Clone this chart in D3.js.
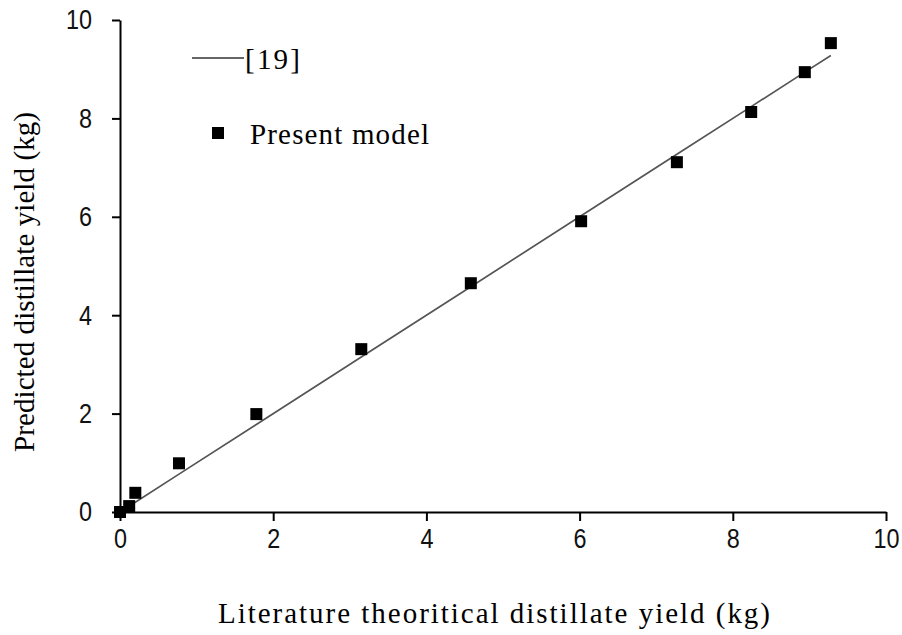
<!DOCTYPE html>
<html>
<head>
<meta charset="utf-8">
<script src="https://cdn.jsdelivr.net/npm/d3@7"></script>
<style>
  html, body { margin: 0; padding: 0; background: #fff; }
  svg { display: block; }
</style>
</head>
<body>
<svg id="chart" width="902" height="635"></svg>
<script>
// Literature theoretical distillate yield (kg) vs. predicted yield (kg)
const literatureYield = [0, 0.12, 0.2, 0.77, 1.78, 3.15, 4.58, 6.02, 7.27, 8.24, 8.94, 9.28];
const presentModel   = [0, 0.12, 0.39, 0.99, 1.99, 3.31, 4.65, 5.91, 7.11, 8.13, 8.94, 9.53];
// Reference [19]: predicted equals literature value
const ref19 = literatureYield.map(v => v);

const xTicks = [0, 2, 4, 6, 8, 10];
const yTicks = [0, 2, 4, 6, 8, 10];

const svg = d3.select("#chart");
const plot = { left: 120, right: 886, top: 20, bottom: 512 };

const x = d3.scaleLinear().domain([0, 10]).range([plot.left, plot.right]);
const y = d3.scaleLinear().domain([0, 10]).range([plot.bottom, plot.top]);

const tickFont = "'Liberation Sans', Arial, sans-serif";
const serif = "'Liberation Serif', 'Times New Roman', serif";

// x axis
const xAxis = svg.append("g")
  .attr("transform", `translate(0,${plot.bottom})`)
  .call(d3.axisBottom(x).tickValues(xTicks).tickSize(9).tickSizeOuter(0).tickPadding(7));
// y axis
const yAxis = svg.append("g")
  .attr("transform", `translate(${plot.left},0)`)
  .call(d3.axisLeft(y).tickValues(yTicks).tickSize(8).tickSizeOuter(0).tickPadding(20));

[xAxis, yAxis].forEach(g => {
  g.select(".domain").attr("stroke", "#000").attr("stroke-width", 2);
  g.selectAll(".tick line").attr("stroke", "#000").attr("stroke-width", 2);
  // tall, narrow digits
  g.selectAll(".tick text")
    .attr("fill", "#111")
    .attr("textLength", d => String(d).length * 13)
    .attr("lengthAdjust", "spacingAndGlyphs")
    .style("font-family", tickFont)
    .style("font-size", "28px");
});

// reference [19] line
svg.append("path")
  .datum(literatureYield.map((v, i) => [v, ref19[i]]))
  .attr("fill", "none")
  .attr("stroke", "#555")
  .attr("stroke-width", 1.7)
  .attr("d", d3.line().x(d => x(d[0])).y(d => y(d[1])));

// present model markers
const s = 12;
svg.append("g").selectAll("rect")
  .data(literatureYield.map((v, i) => [v, presentModel[i]]))
  .join("rect")
  .attr("x", d => x(d[0]) - s / 2)
  .attr("y", d => y(d[1]) - s / 2)
  .attr("width", s)
  .attr("height", s)
  .attr("fill", "#000");

// legend
const lg = svg.append("g");
lg.append("line")
  .attr("x1", 192).attr("x2", 244).attr("y1", 58).attr("y2", 58)
  .attr("stroke", "#333").attr("stroke-width", 1.4);
lg.append("text")
  .attr("x", 245).attr("y", 69)
  .attr("textLength", 55).attr("lengthAdjust", "spacing")
  .style("font-family", serif).style("font-size", "29px")
  .text("[19]");
lg.append("rect")
  .attr("x", 212).attr("y", 127).attr("width", 12).attr("height", 12)
  .attr("fill", "#000");
lg.append("text")
  .attr("x", 250).attr("y", 144)
  .attr("textLength", 179).attr("lengthAdjust", "spacing")
  .style("font-family", serif).style("font-size", "29px")
  .text("Present model");

// axis titles
svg.append("text")
  .attr("x", 218).attr("y", 623)
  .attr("textLength", 552).attr("lengthAdjust", "spacing")
  .style("font-family", serif).style("font-size", "29px")
  .text("Literature theoritical  distillate yield (kg)");

svg.append("text")
  .attr("transform", "translate(34,452) rotate(-90)")
  .attr("textLength", 340).attr("lengthAdjust", "spacing")
  .style("font-family", serif).style("font-size", "29px")
  .text("Predicted distillate yield (kg)");
</script>
</body>
</html>
